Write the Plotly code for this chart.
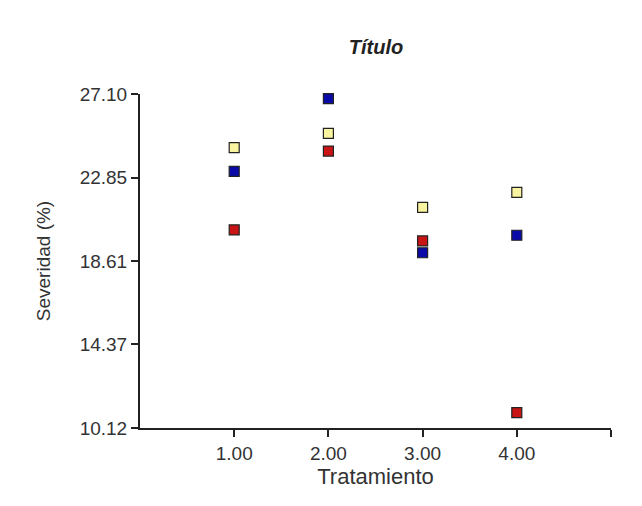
import plotly.graph_objects as go

tratamiento = [1, 2, 3, 4]
serie_amarilla = [24.37, 25.10, 21.34, 22.10]
serie_azul = [23.17, 26.86, 19.03, 19.92]
serie_roja = [20.19, 24.20, 19.63, 10.90]

y_ticks = [10.12, 14.37, 18.61, 22.85, 27.10]
y_ticktext = ["10.12", "14.37", "18.61", "22.85", "27.10"]
x_ticks = [1, 2, 3, 4, 5]
x_ticktext = ["1.00", "2.00", "3.00", "4.00", ""]

series = [
    (serie_roja, "#c81414"),
    (serie_azul, "#0a0aa8"),
    (serie_amarilla, "#f8f4a0"),
]

fig = go.Figure()
for vals, col in series:
    fig.add_trace(go.Scatter(
        x=tratamiento, y=vals, mode="markers",
        marker=dict(symbol="square", size=10, color=col,
                    line=dict(color="#222222", width=1.2)),
        cliponaxis=False, showlegend=False))

font = "Liberation Sans, Arial, sans-serif"
fig.update_layout(
    width=642, height=506,
    margin=dict(l=140, r=31, t=94, b=78),
    paper_bgcolor="white", plot_bgcolor="white",
    font=dict(family=font, size=19, color="#333333"),
    title=dict(text="<b><i>Título</i></b>", x=376/642, xanchor="center",
               y=1 - 47/506, yanchor="middle",
               font=dict(family=font, size=20, color="#222222")),
    xaxis=dict(range=[0, 5], tickvals=x_ticks, ticktext=x_ticktext,
               showgrid=False, zeroline=False, showline=True,
               linecolor="#222222", linewidth=2, ticks="outside",
               ticklen=7, tickwidth=2, tickcolor="#222222",
               tickfont=dict(size=19),
               title=dict(text="Tratamiento", standoff=5,
                          font=dict(size=22, color="#333333"))),
    yaxis=dict(range=[10.12, 27.10], tickvals=y_ticks, ticktext=y_ticktext,
               showgrid=False, zeroline=False, showline=True,
               linecolor="#222222", linewidth=2, ticks="outside",
               ticklen=7, tickwidth=2, tickcolor="#222222",
               tickfont=dict(size=19),
               title=dict(text="Severidad (%)", standoff=24,
                          font=dict(size=19, color="#333333"))),
)

fig.write_html("out.html")
